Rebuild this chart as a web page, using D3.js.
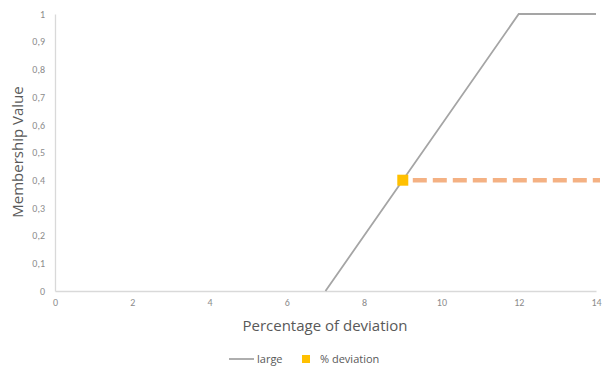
<!DOCTYPE html>
<html><head><meta charset="utf-8">
<script src="https://cdn.jsdelivr.net/npm/d3@7"></script>
<style>body{margin:0;background:#fff;} text{font-family:"Open Sans","Liberation Sans",sans-serif;}</style>
</head><body>
<svg id="c" width="603" height="369"></svg>
<script>
const largeX = [7, 12, 14];
const largeY = [0, 1, 1];
const devX = [9, 14];
const devY = [0.4, 0.4];
const markerX = [9];
const markerY = [0.4];
const xTicks = [0, 2, 4, 6, 8, 10, 12, 14];
const yTicks = [0, 0.1, 0.2, 0.3, 0.4, 0.5, 0.6, 0.7, 0.8, 0.9, 1];

const svg = d3.select("#c");
const x = d3.scaleLinear().domain([0, 14]).range([55, 596]);
const y = d3.scaleLinear().domain([0, 1]).range([291, 14]);
const fmt = v => String(v).replace(".", ",");

// axes
const xa = svg.append("g").attr("transform", "translate(0,291)")
  .call(d3.axisBottom(x).tickValues(xTicks).tickSize(0).tickPadding(8).tickFormat(d => d));
const ya = svg.append("g").attr("transform", "translate(55,0)")
  .call(d3.axisLeft(y).tickValues(yTicks).tickSize(0).tickPadding(10).tickFormat(fmt));
[xa, ya].forEach(a => {
  a.select(".domain").attr("stroke", "#d9d9d9").attr("stroke-width", 1.3);
  a.selectAll("text").attr("fill", "#8c8c8c").style("font-size", "10px").style("font-family", "Calibri, Carlito, 'Open Sans', sans-serif");
});

// large line
const line = d3.line().x(d => x(d[0])).y(d => y(d[1]));
svg.append("path").datum(largeX.map((v, i) => [v, largeY[i]]))
  .attr("d", line).attr("fill", "none").attr("stroke", "#a5a5a5").attr("stroke-width", 1.8);

// dashed deviation line
svg.append("path").datum(devX.map((v, i) => [v, devY[i]]))
  .attr("d", d3.line().x(d => x(d[0]) + (d[0] === devX[0] ? 10 : 4)).y(d => y(d[1])))
  .attr("fill", "none").attr("stroke", "#f4b183").attr("stroke-width", 4.5)
  .attr("stroke-dasharray", "14,6");

// marker
svg.selectAll(".m").data(markerX.map((v, i) => [v, markerY[i]])).enter()
  .append("rect").attr("x", d => x(d[0]) - 5.5).attr("y", d => y(d[1]) - 5.5)
  .attr("width", 11).attr("height", 11).attr("fill", "#ffc000");

// titles
svg.append("text").attr("x", 325).attr("y", 331).attr("text-anchor", "middle")
  .attr("fill", "#595959").style("font-size", "15px").text("Percentage of deviation");
svg.append("text").attr("transform", "translate(23,152) rotate(-90)").attr("text-anchor", "middle")
  .attr("fill", "#595959").style("font-size", "15px").text("Membership Value");

// legend
const lg = svg.append("g");
lg.append("line").attr("x1", 229).attr("x2", 254).attr("y1", 359).attr("y2", 359)
  .attr("stroke", "#a5a5a5").attr("stroke-width", 1.8);
lg.append("text").attr("x", 257).attr("y", 363).attr("fill", "#595959").style("font-size", "11px").text("large");
lg.append("rect").attr("x", 302).attr("y", 355).attr("width", 8).attr("height", 8).attr("fill", "#ffc000");
lg.append("text").attr("x", 320).attr("y", 363).attr("fill", "#595959").style("font-size", "11px").text("% deviation");
</script>
</body></html>
